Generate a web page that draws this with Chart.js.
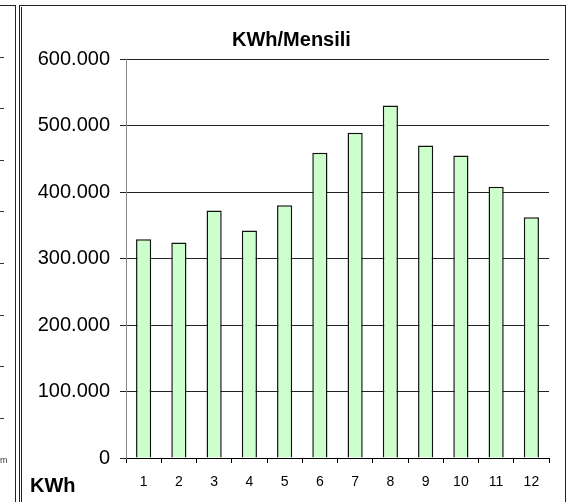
<!DOCTYPE html>
<html>
<head>
<meta charset="utf-8">
<title>KWh/Mensili</title>
<script src="https://cdn.jsdelivr.net/npm/chart.js"></script>
<style>
  body { margin: 0; background: #fff; }
  #wrap { position: relative; width: 573px; height: 502px; overflow: hidden; }
  #kwhChart { position: absolute; left: 0; top: 0; }
  .ln { position: absolute; background: #222; }
  .tk { position: absolute; left: 0; width: 4px; height: 1px; background: #333; }
  #mm { position: absolute; left: 0; top: 455px; font: 9px Arial, "Liberation Sans", sans-serif; color: #333; }
</style>
</head>
<body>
<div id="wrap">
  <canvas id="kwhChart" width="573" height="502"></canvas>
  <!-- left neighbour frame -->
  <div class="ln" style="left:0;top:5px;width:16px;height:1px"></div>
  <div class="ln" style="left:15px;top:5px;width:1px;height:497px"></div>
  <div id="mm">m</div>
  <!-- main frame -->
  <div class="ln" style="left:19px;top:5px;width:547px;height:1px"></div>
  <div class="ln" style="left:19px;top:5px;width:1px;height:497px"></div>
  <div class="ln" style="left:21px;top:7px;width:1px;height:495px"></div>
  <div class="ln" style="left:565px;top:5px;width:1px;height:497px"></div>
</div>
<script>
// Data
const months = ["1", "2", "3", "4", "5", "6", "7", "8", "9", "10", "11", "12"];
const kwh = [329000, 324000, 372000, 342000, 380000, 459000, 489000, 530000, 470000, 455000, 408000, 362000];
const yTicks = [0, 100000, 200000, 300000, 400000, 500000, 600000];
const titleText = "KWh/Mensili";
const axisText = "KWh";

// ticks of the cut-off chart on the left
[57, 108, 160, 211, 263, 315, 366, 418].forEach(function (y) {
  var d = document.createElement("div");
  d.className = "tk";
  d.style.top = y + "px";
  document.getElementById("wrap").appendChild(d);
});

function fmt(v) {
  return String(v).replace(/\B(?=(\d{3})+(?!\d))/g, ".");
}

const textPlugin = {
  id: 'textPlugin',
  afterDraw: function (chart) {
    var ctx = chart.ctx;
    ctx.save();
    ctx.fillStyle = "#000";
    ctx.font = "bold 20px Arial, 'Liberation Sans', sans-serif";
    ctx.textBaseline = "alphabetic";
    ctx.textAlign = "left";
    ctx.fillText(titleText, 232, 46);
    ctx.fillText(axisText, 30, 492);
    ctx.restore();
  }
};

new Chart("kwhChart", {
  type: "bar",
  data: {
    labels: months,
    datasets: [{
      data: kwh,
      backgroundColor: "#ccffcc",
      borderColor: "#111",
      borderWidth: 1.5,
      barPercentage: 0.43,
      categoryPercentage: 1
    }]
  },
  options: {
    responsive: false,
    animation: false,
    layout: { padding: { left: 0, right: 24, top: 59, bottom: 0 } },
    plugins: {
      legend: { display: false },
      title: { display: false },
      tooltip: { enabled: false }
    },
    scales: {
      x: {
        offset: true,
        grid: { drawOnChartArea: false, tickLength: 5, color: "#000" },
        border: { color: "#000" },
        ticks: {
          color: "#000",
          padding: 11,
          maxRotation: 0,
          font: { family: "Arial, 'Liberation Sans', sans-serif", size: 14 }
        },
        afterFit: function (s) { s.height = 44; }
      },
      y: {
        min: 0,
        max: 600000,
        afterBuildTicks: function (s) {
          s.ticks = yTicks.map(function (v) { return { value: v }; });
        },
        grid: { color: "#222", tickLength: 6 },
        border: { color: "#888" },
        ticks: {
          color: "#000",
          padding: 10,
          font: { family: "Arial, 'Liberation Sans', sans-serif", size: 20 },
          callback: function (v) { return fmt(v); }
        },
        afterFit: function (s) { s.width = 126; }
      }
    }
  },
  plugins: [textPlugin]
});
</script>
</body>
</html>
